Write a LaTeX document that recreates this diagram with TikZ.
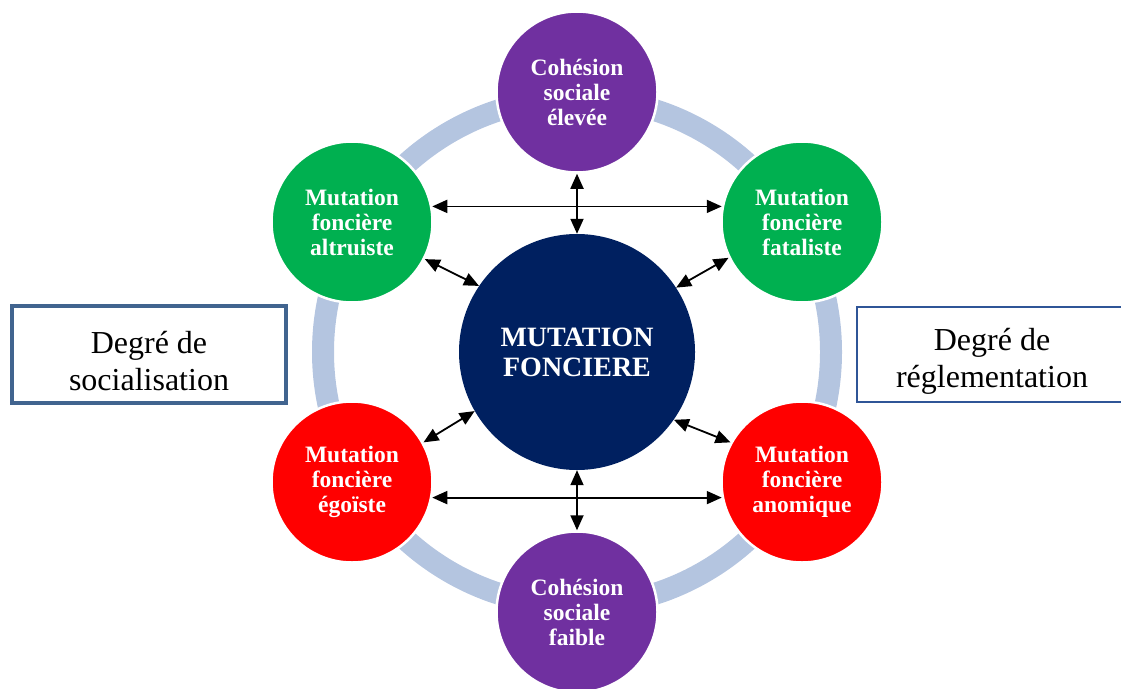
\documentclass[tikz,border=0pt]{standalone}
\usepackage{fontspec}
\setmainfont{Liberation Serif}
\usetikzlibrary{arrows.meta}
\definecolor{navyc}{HTML}{002060}
\definecolor{purplec}{HTML}{7030A0}
\definecolor{greenc}{HTML}{00B050}
\definecolor{redc}{HTML}{FF0000}
\definecolor{ringc}{HTML}{B4C5E0}
\definecolor{boxl}{HTML}{41648F}
\definecolor{boxr}{HTML}{2F5597}
\begin{document}
\begin{tikzpicture}[x=1pt,y=-1pt,
  bubble/.style={circle,minimum size=161pt,inner sep=0pt,draw=white,line width=2.5pt,
    text=white,align=center,font=\bfseries\fontsize{23.5}{25}\selectfont},
  link/.style={line width=1.8pt,{Triangle[length=15pt,width=13pt]}-{Triangle[length=15pt,width=13pt]}},
  boxtext/.style={align=center,font=\fontsize{32}{37}\selectfont}]
\useasboundingbox (0,0) rectangle (1121,688);
\clip (0,0) rectangle (1121,688);
% ring
\draw[ringc,line width=22pt] (577,352) circle[radius=254pt];
% circles
\node[circle,minimum size=236pt,inner sep=0pt,fill=navyc,text=white,align=center,
  font=\bfseries\fontsize{28}{30}\selectfont] (c) at (577,352) {MUTATION\\FONCIERE};
\node[bubble,fill=purplec] (top) at (577,92) {Cohésion\\sociale\\élevée};
\node[bubble,fill=purplec] (bot) at (577,612) {Cohésion\\sociale\\faible};
\node[bubble,fill=greenc] (tl) at (352,222) {Mutation\\foncière\\altruiste};
\node[bubble,fill=greenc] (tr) at (802,222) {Mutation\\foncière\\fataliste};
\node[bubble,fill=redc] (bl) at (352,482) {Mutation\\foncière\\égoïste};
\node[bubble,fill=redc] (br) at (802,482) {Mutation\\foncière\\anomique};
% arrows
\draw[link] (tl.11) -- (tr.169);
\draw[link] (top.south) -- (c.north);
\draw[link] (tl.-27) -- (c.146);
\draw[link] (tr.206) -- (c.33);
\draw[link] (bl.29) -- (c.210);
\draw[link] (br.151) -- (c.-35);
\draw[link] (bl.-11) -- (br.191);
\draw[link] (c.south) -- (bot.north);
% boxes
\draw[boxl,line width=4pt] (12,306) rectangle (286,403);
\node[boxtext] (lbl) at (149,361) {Degré de\\socialisation};
\draw[boxr,line width=2pt] (857,307) rectangle (1130,402);
\node[boxtext] (rbl) at (992,361) {Degré de\\réglementation};
\end{tikzpicture}
\end{document}
